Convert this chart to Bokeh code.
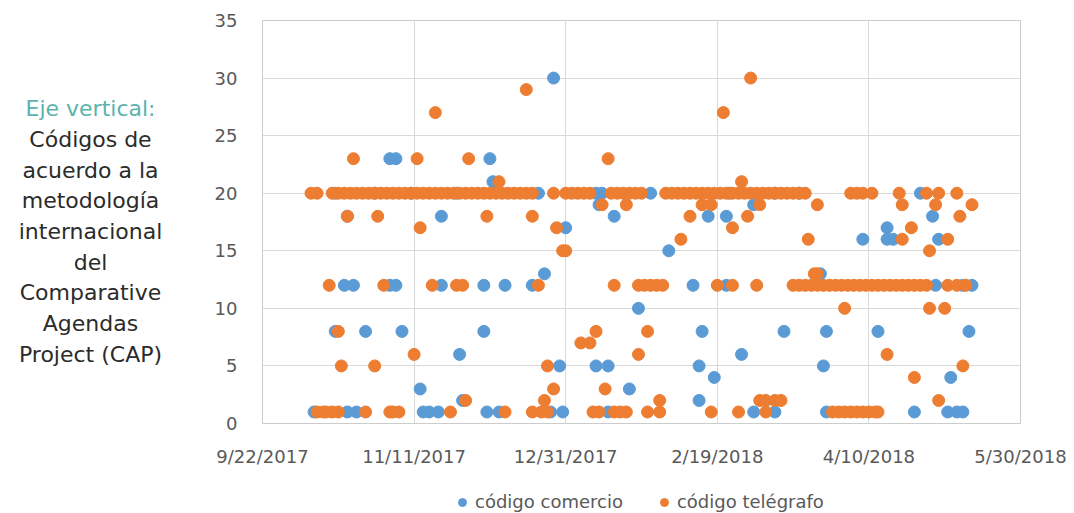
import pandas as pd
from bokeh.plotting import figure
from bokeh.models import (ColumnDataSource, Range1d, FixedTicker, CustomJSTickFormatter,
                          Legend, LegendItem)
from bokeh.layouts import row, column
from bokeh.embed import file_html
from bokeh.resources import INLINE
from bokeh.core.properties import value

# ---------------- data ----------------
y_ticks = [0, 5, 10, 15, 20, 25, 30, 35]
x_tick_dates = ["2017-09-22", "2017-11-11", "2017-12-31", "2018-02-19", "2018-04-10", "2018-05-30"]
x_tick_labels = ["9/22/2017", "11/11/2017", "12/31/2017", "2/19/2018", "4/10/2018", "5/30/2018"]

series_names = ["código comercio", "código telégrafo"]
series_colors = ["#5B9BD5", "#ED7D31"]

comercio_fechas = [
    "2017-10-09", "2017-10-20", "2017-10-23", "2017-11-14", "2017-11-16", "2017-11-19", "2017-12-05", "2017-12-09", "2017-12-26", "2017-12-30", "2018-01-14", "2018-03-03", "2018-03-10", "2018-03-27", "2018-04-25", "2018-05-06", "2018-05-09", "2018-05-11",
    "2017-11-27", "2018-02-13",
    "2017-11-13", "2018-01-21",
    "2018-02-18", "2018-05-07",
    "2017-12-29", "2018-01-10", "2018-01-14", "2018-02-13", "2018-03-26",
    "2017-11-26", "2018-02-27",
    "2017-10-16", "2017-10-26", "2017-11-07", "2017-12-04", "2018-02-14", "2018-03-13", "2018-03-27", "2018-04-13", "2018-05-13",
    "2018-01-24",
    "2017-10-19", "2017-10-22", "2017-11-03", "2017-11-05", "2017-11-20", "2017-12-04", "2017-12-11", "2017-12-20", "2018-02-11", "2018-02-22", "2018-05-02", "2018-05-11", "2018-05-14",
    "2017-12-24", "2018-03-25",
    "2018-02-03",
    "2018-04-08", "2018-04-16", "2018-04-18", "2018-05-03",
    "2017-12-31", "2018-04-16",
    "2017-10-20", "2017-11-20", "2018-01-16", "2018-02-16", "2018-02-22", "2018-05-01",
    "2018-01-11", "2018-03-03",
    "2017-10-16", "2017-10-29", "2017-11-10", "2017-11-25", "2017-12-22", "2018-01-10", "2018-01-12", "2018-01-28", "2018-02-23", "2018-03-10", "2018-03-18", "2018-04-27",
    "2017-12-07",
    "2017-11-03", "2017-11-05", "2017-12-06",
    "2017-12-27",
]
comercio_codigos = [
    1, 1, 1, 1, 1, 1, 1, 1, 1, 1, 1, 1, 1, 1, 1, 1, 1, 1,
    2, 2,
    3, 3,
    4, 4,
    5, 5, 5, 5, 5,
    6, 6,
    8, 8, 8, 8, 8, 8, 8, 8, 8,
    10,
    12, 12, 12, 12, 12, 12, 12, 12, 12, 12, 12, 12, 12,
    13, 13,
    15,
    16, 16, 16, 16,
    17, 17,
    18, 18, 18, 18, 18, 18,
    19, 19,
    20, 20, 20, 20, 20, 20, 20, 20, 20, 20, 20, 20,
    21,
    23, 23, 23,
    30,
]

telegrafo_fechas = [
    # 1
    "2017-10-10", "2017-10-12", "2017-10-13", "2017-10-15", "2017-10-17", "2017-10-26",
    "2017-11-03", "2017-11-04", "2017-11-06", "2017-11-23",
    "2017-12-11", "2017-12-20", "2017-12-23", "2017-12-25",
    "2018-01-09", "2018-01-11", "2018-01-16", "2018-01-18", "2018-01-20", "2018-01-27", "2018-01-31",
    "2018-02-17", "2018-02-26", "2018-03-07", "2018-03-29", "2018-03-31",
    "2018-04-02", "2018-04-04", "2018-04-06", "2018-04-08", "2018-04-10", "2018-04-12", "2018-04-13",
    # 2
    "2017-11-28", "2017-12-24", "2018-01-31", "2018-03-05", "2018-03-07", "2018-03-10", "2018-03-12", "2018-05-03",
    # 3
    "2017-12-27", "2018-01-13",
    # 4
    "2018-04-25",
    # 5
    "2017-10-18", "2017-10-29", "2017-12-25", "2018-05-11",
    # 6
    "2017-11-11", "2018-01-24", "2018-04-16",
    # 7
    "2018-01-05", "2018-01-08",
    # 8
    "2017-10-17", "2018-01-10", "2018-01-27",
    # 10
    "2018-04-02", "2018-04-30", "2018-05-05",
    # 12
    "2017-10-14", "2017-11-01", "2017-11-17", "2017-11-25", "2017-11-27", "2017-12-22",
    "2018-01-16", "2018-01-24", "2018-01-26", "2018-01-28", "2018-01-30", "2018-02-01", "2018-02-19", "2018-02-24", "2018-03-04",
    "2018-03-16", "2018-03-18", "2018-03-20", "2018-03-22", "2018-03-24", "2018-03-26", "2018-03-28", "2018-03-30",
    "2018-04-01", "2018-04-03", "2018-04-05", "2018-04-07", "2018-04-09", "2018-04-11", "2018-04-13", "2018-04-15", "2018-04-17", "2018-04-19", "2018-04-21", "2018-04-23", "2018-04-25", "2018-04-27", "2018-04-29",
    "2018-05-06", "2018-05-09", "2018-05-12",
    # 13
    "2018-03-23", "2018-03-24",
    # 15
    "2017-12-30", "2017-12-31", "2018-04-30",
    # 16
    "2018-02-07", "2018-03-21", "2018-04-21", "2018-05-06",
    # 17
    "2017-11-13", "2017-12-28", "2018-02-24", "2018-04-24",
    # 18
    "2017-10-20", "2017-10-30", "2017-12-05", "2017-12-20", "2018-02-10", "2018-03-01", "2018-05-10",
    # 19
    "2018-01-12", "2018-01-20", "2018-02-14", "2018-02-17", "2018-03-05", "2018-03-24", "2018-04-21", "2018-05-02", "2018-05-14",
    # 20
    "2017-10-08", "2017-10-10", "2017-10-15", "2017-10-17", "2017-10-19", "2017-10-21", "2017-10-23", "2017-10-25", "2017-10-27", "2017-10-29", "2017-10-31",
    "2017-11-02", "2017-11-04", "2017-11-06", "2017-11-08", "2017-11-10", "2017-11-12", "2017-11-14", "2017-11-16", "2017-11-18", "2017-11-20", "2017-11-22", "2017-11-24", "2017-11-26", "2017-11-28", "2017-11-30",
    "2017-12-02", "2017-12-04", "2017-12-06", "2017-12-08", "2017-12-10", "2017-12-12", "2017-12-14", "2017-12-16", "2017-12-18", "2017-12-20", "2017-12-27", "2017-12-31",
    "2018-01-02", "2018-01-04", "2018-01-06", "2018-01-08", "2018-01-15", "2018-01-17", "2018-01-19", "2018-01-21", "2018-01-23", "2018-01-25",
    "2018-02-02", "2018-02-04", "2018-02-06", "2018-02-08", "2018-02-10", "2018-02-12", "2018-02-14", "2018-02-16", "2018-02-18", "2018-02-20", "2018-02-22", "2018-02-24", "2018-02-26", "2018-02-28",
    "2018-03-02", "2018-03-04", "2018-03-06", "2018-03-08", "2018-03-10", "2018-03-12", "2018-03-14", "2018-03-16", "2018-03-18", "2018-03-20",
    "2018-04-04", "2018-04-06", "2018-04-08", "2018-04-11", "2018-04-20", "2018-04-29",
    "2018-05-03", "2018-05-09",
    # 21
    "2017-12-09", "2018-02-27",
    # 23
    "2017-10-22", "2017-11-12", "2017-11-29", "2018-01-14",
    # 27
    "2017-11-18", "2018-02-21",
    # 29
    "2017-12-18",
    # 30
    "2018-03-02",
]
telegrafo_codigos = [
    1, 1, 1, 1, 1, 1,
    1, 1, 1, 1,
    1, 1, 1, 1,
    1, 1, 1, 1, 1, 1, 1,
    1, 1, 1, 1, 1,
    1, 1, 1, 1, 1, 1, 1,
    2, 2, 2, 2, 2, 2, 2, 2,
    3, 3,
    4,
    5, 5, 5, 5,
    6, 6, 6,
    7, 7,
    8, 8, 8,
    10, 10, 10,
    12, 12, 12, 12, 12, 12,
    12, 12, 12, 12, 12, 12, 12, 12, 12,
    12, 12, 12, 12, 12, 12, 12, 12,
    12, 12, 12, 12, 12, 12, 12, 12, 12, 12, 12, 12, 12, 12, 12,
    12, 12, 12,
    13, 13,
    15, 15, 15,
    16, 16, 16, 16,
    17, 17, 17, 17,
    18, 18, 18, 18, 18, 18, 18,
    19, 19, 19, 19, 19, 19, 19, 19, 19,
    20, 20, 20, 20, 20, 20, 20, 20, 20, 20, 20,
    20, 20, 20, 20, 20, 20, 20, 20, 20, 20, 20, 20, 20, 20, 20,
    20, 20, 20, 20, 20, 20, 20, 20, 20, 20, 20, 20,
    20, 20, 20, 20, 20, 20, 20, 20, 20, 20,
    20, 20, 20, 20, 20, 20, 20, 20, 20, 20, 20, 20, 20, 20,
    20, 20, 20, 20, 20, 20, 20, 20, 20, 20,
    20, 20, 20, 20, 20, 20,
    20, 20,
    21, 21,
    23, 23, 23, 23,
    27, 27,
    29,
    30,
]

texto_lineas = ["Eje vertical:", "Códigos de", "acuerdo a la", "metodología",
                "internacional", "del", "Comparative", "Agendas", "Project (CAP)"]

if len(comercio_fechas) != len(comercio_codigos) or len(telegrafo_fechas) != len(telegrafo_codigos):
    raise ValueError(f"len mismatch {len(comercio_fechas)} {len(comercio_codigos)} "
                     f"{len(telegrafo_fechas)} {len(telegrafo_codigos)}")

# ---------------- styles / layout ----------------
FONT = "DejaVu Sans"
GRAY = "#595959"
GRID = "#d9d9d9"
H = 480                       # height of the chart row
LEG_H = 32                    # height of the legend strip below it
TOP, BOTTOM = 20, 57          # frame spans page y 20 .. 423
LEFT_W = 208                  # left text panel width
TOTAL_W = 1072

src_c = ColumnDataSource(dict(fecha=pd.to_datetime(comercio_fechas), codigo=comercio_codigos))
src_t = ColumnDataSource(dict(fecha=pd.to_datetime(telegrafo_fechas), codigo=telegrafo_codigos))

tick_ms = [float(pd.Timestamp(d).value // 10**6) for d in x_tick_dates]

# left annotation panel (its frame is aligned with the chart frame: y range in page pixels)
lf = figure(width=LEFT_W, height=H, x_range=Range1d(0, LEFT_W), y_range=Range1d(H - BOTTOM, TOP),
            toolbar_location=None, output_backend="svg",
            min_border_left=0, min_border_right=0, min_border_top=TOP, min_border_bottom=BOTTOM,
            x_axis_location=None, y_axis_location=None)
lf.grid.visible = False
lf.outline_line_color = None
text_src = ColumnDataSource(dict(
    x=[90] * len(texto_lineas),
    y=[108, 139, 170, 200, 231, 262, 292, 323, 354],
    t=texto_lineas,
    c=["#5ab3ae"] + ["#2b2b2b"] * (len(texto_lineas) - 1),
))
lf.text(x="x", y="y", text="t", text_color="c", source=text_src, text_align="center",
        text_baseline="middle", text_font=value(FONT), text_font_size="22px")

# main chart
p = figure(width=TOTAL_W - LEFT_W, height=H, x_axis_type="datetime",
           x_range=Range1d(pd.Timestamp(x_tick_dates[0]), pd.Timestamp(x_tick_dates[-1])),
           y_range=Range1d(0, 35), toolbar_location=None, output_backend="svg",
           min_border_left=54, min_border_right=52, min_border_top=TOP, min_border_bottom=BOTTOM)

r1 = p.scatter(x="fecha", y="codigo", source=src_c, size=12, marker="circle",
               fill_color=series_colors[0], line_color=series_colors[0])
r2 = p.scatter(x="fecha", y="codigo", source=src_t, size=12, marker="circle",
               fill_color=series_colors[1], line_color=series_colors[1])

p.xaxis.ticker = FixedTicker(ticks=tick_ms)
p.xaxis.formatter = CustomJSTickFormatter(args=dict(tvals=tick_ms, tlabels=x_tick_labels), code="""
let best = 0, bd = Infinity;
for (let i = 0; i < tvals.length; i++) {
  const d = Math.abs(tvals[i] - tick);
  if (d < bd) { bd = d; best = i; }
}
return tlabels[best];
""")
p.yaxis.ticker = FixedTicker(ticks=y_ticks)

for ax in (p.xaxis, p.yaxis):
    ax.axis_line_color = None
    ax.major_tick_line_color = None
    ax.minor_tick_line_color = None
    ax.major_label_text_font = FONT
    ax.major_label_text_font_size = "18px"
    ax.major_label_text_color = GRAY
p.xaxis.major_label_standoff = 16
p.yaxis.major_label_standoff = 19

p.xgrid.grid_line_color = GRID
p.ygrid.grid_line_color = GRID
p.outline_line_color = "#cccccc"

# legend strip: swatch renderers styled like the two series; their single point
# lies outside the strip's visible range, so only the legend glyphs show
lg = figure(width=TOTAL_W, height=LEG_H, x_range=Range1d(0, 1), y_range=Range1d(0, 1),
            toolbar_location=None, output_backend="svg", min_border=0,
            x_axis_location=None, y_axis_location=None)
lg.grid.visible = False
lg.outline_line_color = None
sw = []
for col in series_colors:
    sw.append(lg.scatter(x=[5], y=[5], size=10, marker="circle", fill_color=col, line_color=col))
legend = Legend(items=[LegendItem(label=series_names[0], renderers=[sw[0]]),
                       LegendItem(label=series_names[1], renderers=[sw[1]])],
                location=(452, 0), orientation="horizontal", spacing=31,
                padding=0, margin=0, label_standoff=3, glyph_width=20, glyph_height=20,
                border_line_color=None, background_fill_alpha=0,
                label_text_font=FONT, label_text_font_size="18px", label_text_color=GRAY)
lg.add_layout(legend)

layout = column(row(lf, p), lg)
open("out.html", "w").write(file_html(layout, INLINE))
